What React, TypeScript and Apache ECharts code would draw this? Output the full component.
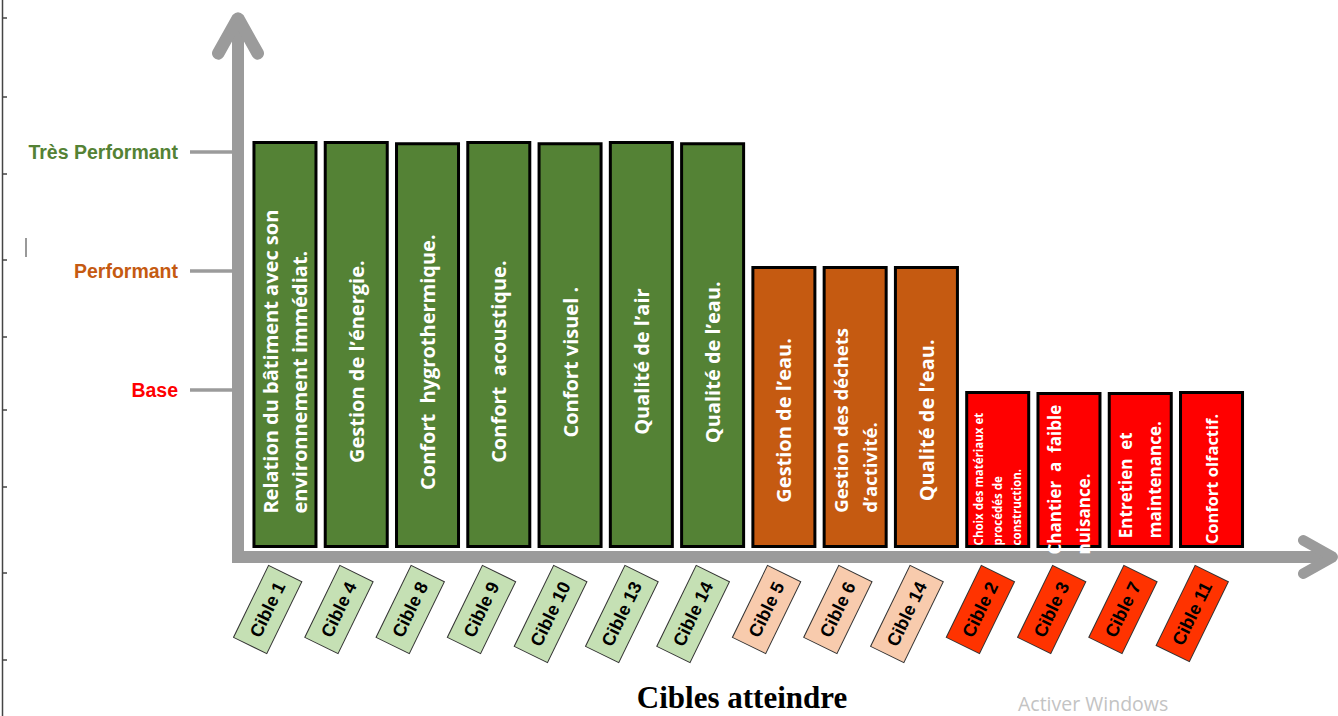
import React, { useEffect, useRef } from "react";
import * as echarts from "echarts";

// ---------- data ----------
const CIBLES = [
  "Cible 1", "Cible 4", "Cible 8", "Cible 9", "Cible 10", "Cible 13", "Cible 14",
  "Cible 5", "Cible 6", "Cible 14",
  "Cible 2", "Cible 3", "Cible 7", "Cible 11",
];
const CRITERES = [
  "Relation du bâtiment avec son\nenvironnement immédiat.",
  "Gestion de l’énergie.",
  "Confort  hygrothermique.",
  "Confort  acoustique.",
  "Confort visuel .",
  "Qualité de l’air",
  "Qualité de l’eau.",
  "Gestion de l’eau.",
  "Gestion des déchets\nd’activité.",
  "Qualité de l’eau.",
  "Choix des matériaux et\nprocédés de\nconstruction.",
  "Chantier  a  faible\nnuisance.",
  "Entretien  et\nmaintenance.",
  "Confort olfactif.",
];
const NIVEAUX = ["Base", "Performant", "Très Performant"];
const NIVEAU_VALEURS = [1, 2, 3];
// index into NIVEAUX reached by each cible
const NIVEAU_ATTEINT = [2, 2, 2, 2, 2, 2, 2, 1, 1, 1, 0, 0, 0, 0];
// bar heights, in level units (Base = 1, Performant = 2, Très Performant = 3)
const SCORES = [3.08, 3.08, 3.07, 3.08, 3.07, 3.08, 3.07, 2.03, 2.03, 2.03, 0.98, 0.97, 0.97, 0.98];
const POSITIONS = CIBLES.map((_, i) => i);

// ---------- styles ----------
const BAR_COLORS = ["#FF0000", "#C55A11", "#548235"];
const TAG_COLORS = ["#FF3300", "#F8CBAD", "#C5E0B4"];
const LEVEL_TEXT_COLORS = ["#FF0000", "#C55A11", "#548235"];
const LABEL_FONT = [20, 20, 20, 20, 20, 20, 20, 20, 18.5, 20, 11.5, 17, 17, 16.5];
const AXIS_GRAY = "#9b9b9b";
const BAR_BASE = -0.315;
const BAR_WIDTH = 0.87;
const CHEVRON =
  "path://M0.76,37.07L19.76,3.07Q25,-2 30.24,3.07L49.24,37.07A6,6 0 0 1 38.76,42.93L25,18.28L11.24,42.93A6,6 0 0 1 0.76,37.07Z";
const RULER_TICKS = [18, 97, 174, 260, 337, 410, 487, 573, 660];

let measureCtx: CanvasRenderingContext2D | null = null;
function measure(text: string, font: string): number {
  if (!measureCtx) measureCtx = document.createElement("canvas").getContext("2d");
  if (!measureCtx) return text.length * 10;
  measureCtx.font = font;
  return measureCtx.measureText(text).width;
}

export default function App() {
  const ref = useRef<HTMLDivElement>(null);

  useEffect(() => {
    if (!ref.current) return;
    const chart = echarts.init(ref.current, undefined, { renderer: "svg" });

    const tagRich: Record<string, any> = {};
    TAG_COLORS.forEach((c, k) => {
      tagRich["t" + k] = {
        backgroundColor: c,
        borderColor: "#333",
        borderWidth: 1,
        padding: [9, 10],
        fontSize: 18,
        lineHeight: 18,
        fontWeight: "bold",
        fontFamily: "Liberation Sans, Arial, sans-serif",
        color: "#000",
      };
    });
    const levelRich: Record<string, any> = {};
    LEVEL_TEXT_COLORS.forEach((c, k) => {
      levelRich["l" + k] = {
        color: c,
        fontSize: 19.5,
        fontWeight: "bold",
        fontFamily: "Liberation Sans, Arial, sans-serif",
      };
    });

    const option: any = {
      animation: false,
      backgroundColor: "#ffffff",
      grid: { left: 238, right: 16, top: 28, bottom: 159, containLabel: false, outerBoundsMode: "none" },
      xAxis: {
        type: "value",
        min: -0.659,
        max: 14.55,
        splitLine: { show: false },
        axisTick: { show: false },
        axisLine: {
          show: true,
          onZero: false,
          symbol: ["none", CHEVRON],
          symbolSize: [62, 40],
          symbolOffset: [0, -4],
          lineStyle: { color: AXIS_GRAY, width: 12, cap: "square" },
        },
        axisLabel: {
          customValues: POSITIONS,
          rotate: 64,
          margin: 17,
          formatter: (v: number) => {
            const i = Math.round(v);
            return `{t${NIVEAU_ATTEINT[i]}|${CIBLES[i]}}`;
          },
          rich: tagRich,
        },
      },
      yAxis: {
        type: "value",
        min: -0.403,
        max: 4.042,
        splitLine: { show: false },
        axisLine: {
          show: true,
          onZero: false,
          symbol: ["none", CHEVRON],
          symbolSize: [52, 48],
          symbolOffset: [0, -8],
          lineStyle: { color: AXIS_GRAY, width: 12, cap: "square" },
        },
        axisTick: {
          show: true,
          customValues: NIVEAU_VALEURS,
          length: 48,
          lineStyle: { color: AXIS_GRAY, width: 3.5 },
        },
        axisLabel: {
          customValues: NIVEAU_VALEURS,
          margin: 60,
          formatter: (v: number) => {
            const k = NIVEAU_VALEURS.indexOf(Math.round(v));
            return `{l${k}|${NIVEAUX[k]}}`;
          },
          rich: levelRich,
        },
      },
      series: [
        {
          type: "custom",
          data: SCORES.map((s, i) => [POSITIONS[i], s]),
          encode: { x: 0, y: 1 },
          renderItem: (params: any, api: any) => {
            const i = params.dataIndex;
            const xv = api.value(0);
            const yv = api.value(1);
            const top = api.coord([xv, yv]);
            const bot = api.coord([xv, BAR_BASE]);
            const w = api.size([BAR_WIDTH, 0])[0];
            const h = bot[1] - top[1];
            const lvl = NIVEAU_ATTEINT[i];
            const fs = LABEL_FONT[i];
            const lines = CRITERES[i].split("\n");
            const maxW = Math.max(...lines.map((l) => measure(l, `bold ${fs}px "Open Sans"`)));
            const cy = top[1] + h / 2 + 5 + 0.03 * h;
            return {
              type: "group",
              children: [
                {
                  type: "rect",
                  shape: { x: top[0] - w / 2, y: top[1], width: w, height: h },
                  style: { fill: BAR_COLORS[lvl], stroke: "#000", lineWidth: 3 },
                },
                {
                  type: "text",
                  x: top[0],
                  y: cy + maxW / 2,
                  rotation: Math.PI / 2,
                  style: {
                    text: CRITERES[i],
                    fill: "#ffffff",
                    fontSize: fs,
                    fontWeight: "bold",
                    fontFamily: "Open Sans",
                    align: "left",
                    verticalAlign: "middle",
                    lineHeight: fs < 12 ? 19 : 29,
                  },
                },
              ],
            };
          },
        },
      ],
      graphic: [
        {
          type: "line",
          shape: { x1: 2.5, y1: 0, x2: 2.5, y2: 716 },
          style: { stroke: "#444", lineWidth: 1.5 },
        },
        ...RULER_TICKS.map((y) => ({
          type: "line",
          shape: { x1: 2.5, y1: y, x2: 7, y2: y },
          style: { stroke: "#444", lineWidth: 1.5 },
        })),
        {
          type: "line",
          shape: { x1: 26, y1: 238, x2: 26, y2: 257 },
          style: { stroke: "#777", lineWidth: 1.5 },
        },
        {
          type: "text",
          x: 742,
          y: 697,
          style: {
            text: "Cibles atteindre",
            fill: "#000",
            fontSize: 31,
            fontWeight: "bold",
            fontFamily: "Liberation Serif, Times New Roman, serif",
            align: "center",
            verticalAlign: "middle",
          },
        },
        {
          type: "text",
          x: 1018,
          y: 703,
          style: {
            text: "Activer Windows",
            fill: "#c3c3c3",
            fontSize: 19.5,
            fontFamily: "Open Sans",
            align: "left",
            verticalAlign: "middle",
          },
        },
      ],
    };

    chart.setOption(option);
    return () => chart.dispose();
  }, []);

  return (
    <div
      ref={ref}
      style={{ position: "absolute", left: 0, top: 0, width: 1338, height: 716, background: "#fff" }}
    />
  );
}
